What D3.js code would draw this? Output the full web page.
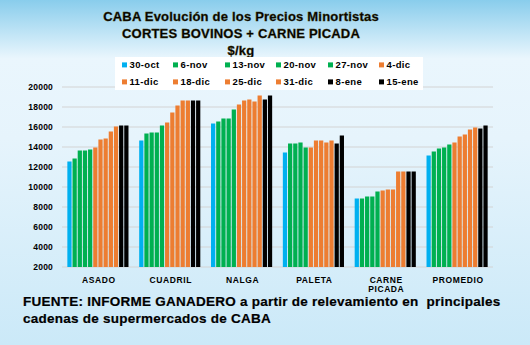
<!DOCTYPE html>
<html><head><meta charset="utf-8">
<script src="https://cdn.jsdelivr.net/npm/d3@7"></script>
<style>
html,body{margin:0;padding:0;}
svg{display:block;font-family:"Liberation Sans",Arial,sans-serif;}
</style></head>
<body><svg id="c" width="530" height="345"></svg>
<script>
const categories = ["ASADO","CUADRIL","NALGA","PALETA","CARNE PICADA","PROMEDIO"];
const seriesNames = ["30-oct","6-nov","13-nov","20-nov","27-nov","4-dic","11-dic","18-dic","25-dic","31-dic","8-ene","15-ene"];
const seriesColors = ["#00B0F0","#00B050","#00B050","#00B050","#00B050","#ED7D31","#ED7D31","#ED7D31","#ED7D31","#ED7D31","#000000","#000000"];
const asado   = [12550,12850,13650,13650,13750,13950,14750,14850,15550,16050,16150,16150];
const cuadril = [14650,15350,15450,15450,16150,16450,17450,18150,18650,18650,18650,18650];
const nalga   = [16350,16550,16850,16850,17750,18250,18650,18750,18550,19150,18750,19150];
const paleta  = [13450,14350,14350,14450,13950,13950,14650,14650,14450,14650,14350,15150];
const carnePicada = [8850,8850,9050,9050,9550,9650,9750,9750,11550,11550,11550,11550];
const promedio = [13150,13550,13850,13950,14250,14450,15050,15250,15750,15950,15850,16150];
const values = [asado,cuadril,nalga,paleta,carnePicada,promedio];
const yTicks = [2000,4000,6000,8000,10000,12000,14000,16000,18000,20000];

const svg = d3.select("#c");
const W = 530, H = 345;
const defs = svg.append("defs");
const bg = defs.append("linearGradient").attr("id","bg").attr("x1",0).attr("y1",0).attr("x2",0).attr("y2",1);
bg.append("stop").attr("offset","0%").attr("stop-color","#89cdec");
bg.append("stop").attr("offset","17%").attr("stop-color","#eaf6fd");
bg.append("stop").attr("offset","40%").attr("stop-color","#e6f4fc");
bg.append("stop").attr("offset","100%").attr("stop-color","#cbe9f8");
svg.append("rect").attr("width",W).attr("height",H).attr("fill","url(#bg)");

const x0 = d3.scaleBand().domain(categories).range([62,493]).paddingInner(0.123).paddingOuter(0.0615);
const x1 = d3.scaleBand().domain(seriesNames).range([0,x0.bandwidth()]).padding(0.18);
const y = d3.scaleLinear().domain([2000,20000]).range([267,87]);

// gridlines
svg.append("g").selectAll("line").data(yTicks).join("line")
  .attr("x1",62).attr("x2",493).attr("y1",d=>y(d)).attr("y2",d=>y(d))
  .attr("stroke","#d4d4d4").attr("stroke-width",1.2);

// y axis
const yAxis = d3.axisLeft(y).tickValues(yTicks).tickSize(0).tickPadding(0).tickFormat(d3.format("d"));
const yg = svg.append("g").attr("transform","translate(53,0)").call(yAxis);
yg.select(".domain").remove();
yg.selectAll("text").attr("font-size","8.5px").attr("font-weight","bold").attr("fill","#000")
  .attr("letter-spacing","0.2px").attr("font-family","'Liberation Sans',Arial,sans-serif");

// bars
const groups = svg.append("g").selectAll("g").data(categories).join("g")
  .attr("transform",d=>`translate(${x0(d)},0)`);
groups.selectAll("rect").data((d,i)=>values[i].map((v,j)=>({v,s:seriesNames[j],c:seriesColors[j]})))
  .join("rect")
  .attr("x",d=>x1(d.s)).attr("width",x1.bandwidth())
  .attr("y",d=>y(d.v)).attr("height",d=>y(2000)-y(d.v))
  .attr("fill",d=>d.c);

// x labels
const xl = svg.append("g");
categories.forEach(c=>{
  const words = c==="CARNE PICADA" ? ["CARNE","PICADA"] : [c];
  words.forEach((w,k)=>{
    xl.append("text").attr("x",x0(c)+x0.bandwidth()/2+1).attr("y",283+k*8.5)
      .attr("text-anchor","middle").attr("font-size","8.5px").attr("font-weight","bold")
      .attr("letter-spacing","0.6px").attr("fill","#000").text(w);
  });
});

// title
const titleLines = [["CABA Evolución de los Precios Minortistas",21],["CORTES BOVINOS + CARNE PICADA",38],["$/kg",54.5]];
titleLines.forEach(([t,yy])=>{
  svg.append("text").attr("x",241).attr("y",yy).attr("text-anchor","middle")
    .attr("font-size","13px").attr("font-weight","bold").attr("fill","#000")
    .attr("stroke","#3a3000").attr("stroke-width",0.35).attr("letter-spacing","0.2px").text(t);
});

// legend
svg.append("rect").attr("x",115).attr("y",57).attr("width",308).attr("height",33).attr("fill","#ffffff");
const legCols = [122,173,225,276,328,379];
seriesNames.forEach((s,i)=>{
  const col = i%6, row = Math.floor(i/6);
  const lx = legCols[col], ly = 67.7 + row*17;
  svg.append("rect").attr("x",lx).attr("y",ly-5.3).attr("width",5).attr("height",5).attr("fill",seriesColors[i]);
  svg.append("text").attr("x",lx+7.5).attr("y",ly).attr("font-size","9.5px").attr("font-weight","bold")
    .attr("letter-spacing","0.35px").attr("fill","#000").text(s);
});

// footer
svg.append("text").attr("x",23).attr("y",306).attr("font-size","13.5px").attr("font-weight","bold").attr("fill","#000")
  .attr("letter-spacing","0.25px").attr("stroke","#000").attr("stroke-width",0.2)
  .attr("xml:space","preserve").style("white-space","pre")
  .text("FUENTE: INFORME GANADERO a partir de relevamiento en  principales");
svg.append("text").attr("x",23).attr("y",323).attr("font-size","13.5px").attr("font-weight","bold").attr("fill","#000")
  .attr("letter-spacing","0.25px").attr("stroke","#000").attr("stroke-width",0.2)
  .text("cadenas de supermercados de CABA");
</script></body></html>
